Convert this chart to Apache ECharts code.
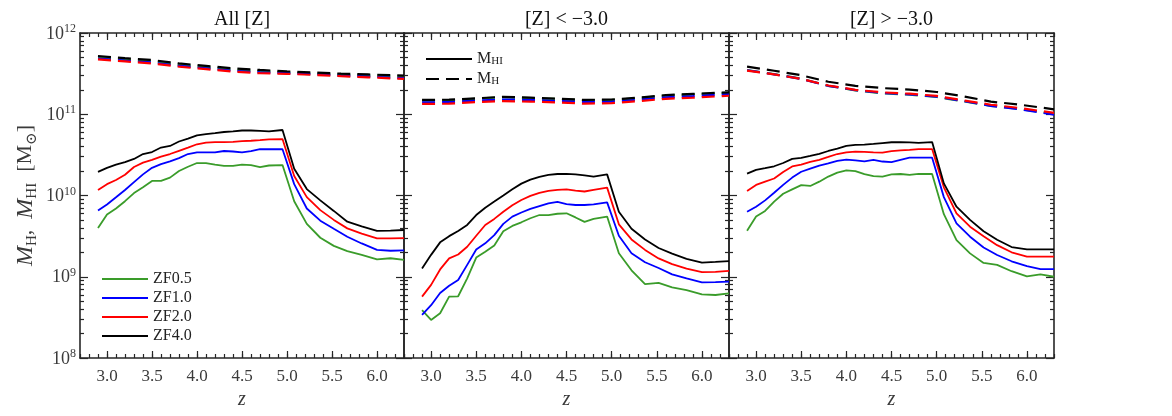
<!DOCTYPE html>
<html><head><meta charset="utf-8">
<script src="https://cdn.jsdelivr.net/npm/echarts@6/dist/echarts.min.js"></script>
<style>html,body{margin:0;padding:0;background:#fff}#c{width:1172px;height:416px}</style>
</head><body><div id="c"></div>
<script>
// redshift grids
const zFine=[2.9,3.0,3.1,3.2,3.3,3.4,3.5,3.6,3.7,3.8,3.9,4.0,4.1,4.2,4.3,4.4,4.5,4.6,4.7,4.8,4.95,5.08,5.22,5.37,5.52,5.67,5.83,6.0,6.15,6.3];
const zCoarse=[2.9,3.2,3.5,3.8,4.1,4.4,4.7,5.0,5.3,5.6,5.9,6.3];
const xTickLabels=[3.0,3.5,4.0,4.5,5.0,5.5,6.0];
const yMinorTicks=[2e8,3e8,4e8,5e8,6e8,7e8,8e8,9e8,2e9,3e9,4e9,5e9,6e9,7e9,8e9,9e9,2e10,3e10,4e10,5e10,6e10,7e10,8e10,9e10,2e11,3e11,4e11,5e11,6e11,7e11,8e11,9e11];
const seriesNames=['ZF0.5','ZF1.0','ZF2.0','ZF4.0'];
const panelTitles=['All [Z]','[Z] < \u22123.0','[Z] > \u22123.0'];

// M_HI (solid) — All [Z]
const hiAll05=[3.98e9,5.82e9,6.92e9,8.51e9,1.07e10,1.26e10,1.51e10,1.51e10,1.66e10,2.00e10,2.26e10,2.51e10,2.51e10,2.40e10,2.31e10,2.31e10,2.40e10,2.37e10,2.24e10,2.34e10,2.37e10,8.51e9,4.47e9,3.02e9,2.40e9,2.07e9,1.86e9,1.64e9,1.69e9,1.61e9];
const hiAll10=[6.53e9,7.76e9,9.51e9,1.17e10,1.46e10,1.82e10,2.19e10,2.43e10,2.63e10,2.88e10,3.24e10,3.39e10,3.39e10,3.39e10,3.53e10,3.48e10,3.39e10,3.51e10,3.71e10,3.71e10,3.71e10,1.38e10,6.92e9,4.90e9,3.89e9,3.11e9,2.57e9,2.14e9,2.09e9,2.11e9];
const hiAll20=[1.17e10,1.38e10,1.55e10,1.80e10,2.24e10,2.54e10,2.75e10,3.01e10,3.24e10,3.55e10,3.89e10,4.27e10,4.47e10,4.55e10,4.55e10,4.57e10,4.68e10,4.72e10,4.79e10,4.90e10,4.95e10,1.74e10,9.55e9,6.61e9,5.01e9,3.94e9,3.39e9,2.97e9,2.97e9,2.99e9];
const hiAll40=[1.95e10,2.19e10,2.40e10,2.57e10,2.82e10,3.24e10,3.43e10,3.89e10,4.07e10,4.62e10,5.01e10,5.50e10,5.69e10,5.86e10,6.05e10,6.17e10,6.31e10,6.31e10,6.24e10,6.17e10,6.40e10,2.14e10,1.20e10,8.71e9,6.46e9,4.76e9,4.17e9,3.66e9,3.70e9,3.76e9];
// M_HI — [Z] < -3
const hiLow05=[3.89e8,2.94e8,3.55e8,5.69e8,5.75e8,9.55e8,1.72e9,2.03e9,2.43e9,3.63e9,4.22e9,4.68e9,5.25e9,5.75e9,5.75e9,5.96e9,6.04e9,5.37e9,4.73e9,5.15e9,5.50e9,1.95e9,1.20e9,8.13e8,8.41e8,7.41e8,6.84e8,6.08e8,5.96e8,6.25e8];
const hiLow10=[3.39e8,4.47e8,6.31e8,7.76e8,9.12e8,1.40e9,2.16e9,2.58e9,3.25e9,4.47e9,5.50e9,6.17e9,6.84e9,7.41e9,8.02e9,8.36e9,7.85e9,7.64e9,7.64e9,7.76e9,8.24e9,3.20e9,1.95e9,1.51e9,1.28e9,1.07e9,9.55e8,8.55e8,8.61e8,8.71e8];
const hiLow20=[5.69e8,7.94e8,1.23e9,1.68e9,1.88e9,2.34e9,3.20e9,4.34e9,5.15e9,6.31e9,7.59e9,8.81e9,9.89e9,1.08e10,1.14e10,1.17e10,1.19e10,1.15e10,1.12e10,1.17e10,1.25e10,4.42e9,2.88e9,2.14e9,1.68e9,1.43e9,1.26e9,1.14e9,1.15e9,1.18e9];
const hiLow40=[1.26e9,1.86e9,2.65e9,3.16e9,3.66e9,4.34e9,5.75e9,7.08e9,8.41e9,1.00e10,1.19e10,1.40e10,1.57e10,1.70e10,1.79e10,1.84e10,1.85e10,1.82e10,1.77e10,1.71e10,1.82e10,6.31e9,3.89e9,2.88e9,2.26e9,1.93e9,1.66e9,1.49e9,1.52e9,1.56e9];
// M_HI — [Z] > -3
const hiHigh05=[3.69e9,5.50e9,6.46e9,8.41e9,1.05e10,1.19e10,1.34e10,1.31e10,1.48e10,1.71e10,1.91e10,2.04e10,2.00e10,1.83e10,1.73e10,1.71e10,1.82e10,1.84e10,1.79e10,1.85e10,1.84e10,5.89e9,2.83e9,1.94e9,1.48e9,1.40e9,1.17e9,1.01e9,1.07e9,1.00e9];
const hiHigh10=[6.31e9,7.28e9,8.71e9,1.08e10,1.35e10,1.66e10,1.96e10,2.14e10,2.33e10,2.48e10,2.66e10,2.77e10,2.70e10,2.63e10,2.74e10,2.62e10,2.58e10,2.75e10,2.92e10,2.92e10,2.92e10,9.55e9,4.54e9,3.11e9,2.29e9,1.85e9,1.55e9,1.35e9,1.24e9,1.24e9];
const hiHigh20=[1.14e10,1.35e10,1.48e10,1.62e10,1.95e10,2.28e10,2.40e10,2.59e10,2.75e10,2.98e10,3.24e10,3.39e10,3.47e10,3.45e10,3.40e10,3.37e10,3.51e10,3.59e10,3.65e10,3.72e10,3.73e10,1.26e10,6.04e9,4.13e9,3.16e9,2.45e9,2.00e9,1.77e9,1.77e9,1.77e9];
const hiHigh40=[1.86e10,2.07e10,2.17e10,2.29e10,2.51e10,2.82e10,2.90e10,3.07e10,3.26e10,3.53e10,3.78e10,4.07e10,4.19e10,4.22e10,4.31e10,4.42e10,4.52e10,4.54e10,4.50e10,4.44e10,4.55e10,1.41e10,7.28e9,5.01e9,3.63e9,2.85e9,2.32e9,2.17e9,2.17e9,2.17e9];

// M_H (dashed)
const hAll05=[5.00e11,4.72e11,4.47e11,4.07e11,3.80e11,3.54e11,3.39e11,3.27e11,3.18e11,3.07e11,3.00e11,2.90e11];
const hAll10=[4.85e11,4.58e11,4.33e11,3.95e11,3.68e11,3.43e11,3.28e11,3.20e11,3.11e11,3.00e11,2.91e11,2.78e11];
const hAll20=[4.74e11,4.47e11,4.22e11,3.85e11,3.59e11,3.35e11,3.20e11,3.14e11,3.05e11,2.94e11,2.85e11,2.72e11];
const hAll40=[5.21e11,4.90e11,4.65e11,4.22e11,3.94e11,3.67e11,3.51e11,3.37e11,3.27e11,3.16e11,3.09e11,2.99e11];
const hLow05=[1.47e11,1.48e11,1.55e11,1.62e11,1.58e11,1.54e11,1.48e11,1.50e11,1.58e11,1.70e11,1.76e11,1.84e11];
const hLow10=[1.40e11,1.41e11,1.47e11,1.52e11,1.50e11,1.46e11,1.41e11,1.43e11,1.51e11,1.62e11,1.67e11,1.77e11];
const hLow20=[1.34e11,1.35e11,1.41e11,1.45e11,1.43e11,1.40e11,1.35e11,1.37e11,1.45e11,1.55e11,1.60e11,1.69e11];
const hLow40=[1.50e11,1.51e11,1.57e11,1.64e11,1.60e11,1.56e11,1.50e11,1.52e11,1.60e11,1.72e11,1.78e11,1.86e11];
const hHigh05=[3.50e11,3.12e11,2.74e11,2.24e11,1.96e11,1.81e11,1.74e11,1.63e11,1.44e11,1.27e11,1.17e11,1.01e11];
const hHigh10=[3.48e11,3.10e11,2.72e11,2.24e11,1.98e11,1.83e11,1.76e11,1.65e11,1.45e11,1.27e11,1.16e11,9.9e10];
const hHigh20=[3.45e11,3.09e11,2.72e11,2.26e11,2.00e11,1.86e11,1.79e11,1.68e11,1.48e11,1.31e11,1.20e11,1.04e11];
const hHigh40=[3.86e11,3.43e11,3.02e11,2.51e11,2.24e11,2.10e11,2.01e11,1.88e11,1.66e11,1.43e11,1.32e11,1.15e11];

const hiPanels=[[hiAll05,hiAll10,hiAll20,hiAll40],[hiLow05,hiLow10,hiLow20,hiLow40],[hiHigh05,hiHigh10,hiHigh20,hiHigh40]];
const hPanels=[[hAll05,hAll10,hAll20,hAll40],[hLow05,hLow10,hLow20,hLow40],[hHigh05,hHigh10,hHigh20,hHigh40]];

const FONT='"Liberation Serif","DejaVu Serif",serif';
const FRAME='#262626';
const TXT='#3a3a3a';
const COLORS=['#3a9c2a','#0000ff','#ff0000','#000000'];
const gridBoxes=[{left:80,width:324},{left:404,width:325},{left:729,width:325}];
const TOP=33, H=325;

const grid=[],xAxis=[],yAxis=[],series=[],graphic=[];
const zip=(xs,ys)=>xs.map((x,i)=>[x,ys[i]]);
const lineFrame={show:true,onZero:false,lineStyle:{color:FRAME,width:1.6}};
const tickStyle={color:FRAME,width:1.2};

gridBoxes.forEach((g,i)=>{
  grid.push({left:g.left,top:TOP,width:g.width,height:H,containLabel:false});
  const xb={gridIndex:i,type:'value',min:2.7,max:6.3,splitLine:{show:false}};
  xAxis.push(Object.assign({},xb,{position:'bottom',interval:0.1,axisLine:lineFrame,axisTick:{inside:true,length:4,lineStyle:tickStyle},axisLabel:{show:false}}));
  xAxis.push(Object.assign({},xb,{position:'bottom',axisLine:{show:false,onZero:false},
    axisTick:{inside:true,length:7,customValues:xTickLabels,lineStyle:tickStyle},
    axisLabel:{show:true,customValues:xTickLabels,margin:10,formatter:v=>Number(v).toFixed(1),fontFamily:FONT,fontSize:17,color:TXT},
    name:'z',nameLocation:'middle',nameGap:29,nameTextStyle:{fontFamily:FONT,fontStyle:'italic',fontSize:20,color:TXT}}));
  xAxis.push(Object.assign({},xb,{position:'top',interval:0.1,axisLine:lineFrame,axisTick:{inside:true,length:4,lineStyle:tickStyle},axisLabel:{show:false}}));
  xAxis.push(Object.assign({},xb,{position:'top',axisLine:{show:false,onZero:false},axisTick:{inside:true,length:7,customValues:xTickLabels,lineStyle:tickStyle},axisLabel:{show:false}}));

  const yb={gridIndex:i,type:'log',logBase:10,min:1e8,max:1e12,splitNumber:4,splitLine:{show:false}};
  const leftMajor=Object.assign({},yb,{position:'left',axisLine:lineFrame,axisTick:{inside:true,length:8,lineStyle:tickStyle},axisLabel:{show:false}});
  if(i===0){
    leftMajor.axisLabel={show:true,margin:4,fontFamily:FONT,color:TXT,
      formatter:v=>'{n|10}{sup|'+Math.round(Math.log10(v))+'}',
      rich:{n:{fontFamily:FONT,fontSize:18,color:TXT,lineHeight:20,verticalAlign:'bottom'},sup:{fontFamily:FONT,fontSize:12,color:TXT,lineHeight:12,verticalAlign:'top'}}};
    leftMajor.name='{it|M}{sub|H}{n|,  }{it|M}{sub|HI}{n|  [M}{sub|\u2299}{n|]}';
    leftMajor.nameLocation='middle';
    leftMajor.nameGap=40;
    leftMajor.nameRotate=90;
    leftMajor.nameTextStyle={fontFamily:FONT,color:TXT,rich:{
      it:{fontFamily:FONT,fontStyle:'italic',fontSize:24,color:TXT,lineHeight:26,verticalAlign:'top'},
      n:{fontFamily:FONT,fontSize:22,color:TXT,lineHeight:26,verticalAlign:'top'},
      sub:{fontFamily:FONT,fontSize:15,color:TXT,lineHeight:16,verticalAlign:'bottom'}}};
  }
  yAxis.push(leftMajor);
  yAxis.push(Object.assign({},yb,{position:'left',axisLine:{show:false,onZero:false},axisTick:{inside:true,length:4,customValues:yMinorTicks,lineStyle:tickStyle},axisLabel:{show:false}}));
  yAxis.push(Object.assign({},yb,{position:'right',axisLine:lineFrame,axisTick:{inside:true,length:8,lineStyle:tickStyle},axisLabel:{show:false}}));
  yAxis.push(Object.assign({},yb,{position:'right',axisLine:{show:false,onZero:false},axisTick:{inside:true,length:4,customValues:yMinorTicks,lineStyle:tickStyle},axisLabel:{show:false}}));

  hiPanels[i].forEach((vals,k)=>{
    series.push({type:'line',name:seriesNames[k],xAxisIndex:i*4,yAxisIndex:i*4,data:zip(zFine,vals),
      symbol:'none',showSymbol:false,silent:true,animation:false,
      lineStyle:{color:COLORS[k],width:1.8},itemStyle:{color:COLORS[k]}});
  });
  hPanels[i].forEach((vals,k)=>{
    series.push({type:'line',name:seriesNames[k]+' H'+i,xAxisIndex:i*4,yAxisIndex:i*4,data:zip(zCoarse,vals),
      symbol:'none',showSymbol:false,silent:true,animation:false,
      lineStyle:{color:COLORS[k],width:2.2,type:[13,7]},itemStyle:{color:COLORS[k]}});
  });

  graphic.push({type:'text',x:g.left+g.width/2,y:20,silent:true,
    style:{text:panelTitles[i],textAlign:'center',textVerticalAlign:'middle',font:'20px '+FONT,fill:'#111'}});
});

series.push({type:'line',name:'MHI',xAxisIndex:4,yAxisIndex:4,data:[],symbol:'none',lineStyle:{color:'#000',width:1.8},itemStyle:{color:'#000'}});
series.push({type:'line',name:'MH',xAxisIndex:4,yAxisIndex:4,data:[],symbol:'none',lineStyle:{color:'#000',width:2.2,type:[13,7]},itemStyle:{color:'#000'}});

const noSym={opacity:0,borderWidth:0};
const option={
  animation:false,
  backgroundColor:'#fff',
  grid,xAxis,yAxis,series,graphic,
  legend:[
    {data:seriesNames,orient:'vertical',left:96,top:266,itemWidth:46,itemHeight:14,itemGap:3,selectedMode:false,itemStyle:noSym,
      textStyle:{fontFamily:FONT,fontSize:16,color:'#222'}},
    {data:['MHI','MH'],orient:'vertical',left:420,top:46,itemWidth:46,itemHeight:14,itemGap:4,selectedMode:false,itemStyle:noSym,
      formatter:n=>n==='MHI'?'{m|M}{s|HI}':'{m|M}{s|H}',
      textStyle:{fontFamily:FONT,fontSize:16,color:'#222',rich:{m:{fontFamily:FONT,fontSize:16,color:'#222',lineHeight:16,verticalAlign:'top'},s:{fontFamily:FONT,fontSize:11,color:'#222',lineHeight:12,verticalAlign:'bottom'}}}}
  ]
};
const chart=echarts.init(document.getElementById('c'),null,{renderer:'canvas'});
chart.setOption(option);
</script></body></html>
